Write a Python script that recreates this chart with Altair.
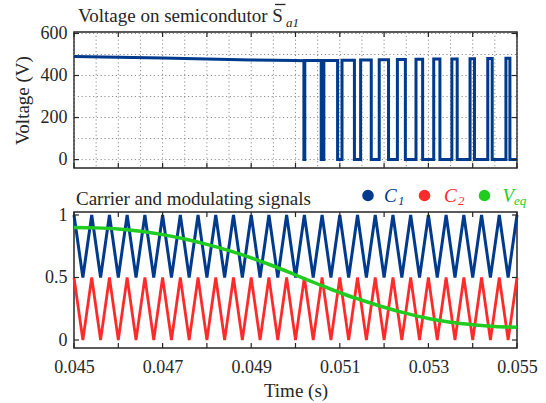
import altair as alt
import pandas as pd

FONT = "Liberation Serif, Times New Roman, Times, serif"
INK = "#262626"
BLUE = "#003a8c"
RED = "#ff2b2b"
GREEN = "#1fcc1f"
GRIDC = "#8c8c8c"

# ---------------- data ----------------
# top panel: voltage on the lower semiconductor
pre_t = [0.0450, 0.0460, 0.0470, 0.0480, 0.0490, 0.0500]
pre_v = [490, 487, 483, 478, 474, 471]
low_start = [0.05019, 0.05058, 0.05095, 0.05133, 0.05171, 0.05210, 0.05248,
             0.05287, 0.05326, 0.05365, 0.05404, 0.05444, 0.05484]
low_end = [0.05021, 0.05064, 0.05105, 0.05147, 0.05189, 0.05230, 0.05272,
           0.05312, 0.05353, 0.05394, 0.05434, 0.05475, 0.05500]
high_level = [470, 471, 472, 473, 474, 475, 476, 477, 478, 479, 480, 481, 482]

# bottom panel: carriers (triangle vertices) and modulating signal
carrier_t = [0.0450, 0.0452, 0.0454, 0.0456, 0.0458, 0.0460, 0.0462, 0.0464, 0.0466,
             0.0468, 0.0470, 0.0472, 0.0474, 0.0476, 0.0478, 0.0480, 0.0482, 0.0484,
             0.0486, 0.0488, 0.0490, 0.0492, 0.0494, 0.0496, 0.0498, 0.0500, 0.0502,
             0.0504, 0.0506, 0.0508, 0.0510, 0.0512, 0.0514, 0.0516, 0.0518, 0.0520,
             0.0522, 0.0524, 0.0526, 0.0528, 0.0530, 0.0532, 0.0534, 0.0536, 0.0538,
             0.0540, 0.0542, 0.0544, 0.0546, 0.0548, 0.0550]
c1_vals = [1, 0.5, 1, 0.5, 1, 0.5, 1, 0.5, 1, 0.5, 1, 0.5, 1, 0.5, 1, 0.5, 1, 0.5,
           1, 0.5, 1, 0.5, 1, 0.5, 1, 0.5, 1, 0.5, 1, 0.5, 1, 0.5, 1, 0.5, 1, 0.5,
           1, 0.5, 1, 0.5, 1, 0.5, 1, 0.5, 1, 0.5, 1, 0.5, 1, 0.5, 1]
c2_vals = [0.5, 0, 0.5, 0, 0.5, 0, 0.5, 0, 0.5, 0, 0.5, 0, 0.5, 0, 0.5, 0, 0.5, 0,
           0.5, 0, 0.5, 0, 0.5, 0, 0.5, 0, 0.5, 0, 0.5, 0, 0.5, 0, 0.5, 0, 0.5, 0,
           0.5, 0, 0.5, 0, 0.5, 0, 0.5, 0, 0.5, 0, 0.5, 0, 0.5, 0, 0.5]
veq_t = [0.0450, 0.0455, 0.0460, 0.0465, 0.0470, 0.0475, 0.0480, 0.0485, 0.0490,
         0.0495, 0.0500, 0.0505, 0.0510, 0.0515, 0.0520, 0.0525, 0.0530, 0.0535,
         0.0540, 0.0545, 0.0550]
veq_vals = [0.900, 0.897, 0.888, 0.870, 0.843, 0.808, 0.765, 0.715, 0.657, 0.592,
            0.520, 0.448, 0.378, 0.318, 0.262, 0.213, 0.172, 0.142, 0.122, 0.108, 0.102]

# axis / grid values
grid_t = [0.0450, 0.0455, 0.0460, 0.0465, 0.0470, 0.0475, 0.0480, 0.0485, 0.0490,
          0.0495, 0.0500, 0.0505, 0.0510, 0.0515, 0.0520, 0.0525, 0.0530, 0.0535,
          0.0540, 0.0545, 0.0550]
grid_v = [0, 100, 200, 300, 400, 500, 600]
xtick_t = [0.045, 0.046, 0.047, 0.048, 0.049, 0.050, 0.051, 0.052, 0.053, 0.054, 0.055]
xlabel_t = [0.045, 0.047, 0.049, 0.051, 0.053, 0.055]
top_yticks = [0, 200, 400, 600]
bot_yticks = [0, 0.5, 1]

legend_names = ["C", "C", "V"]
legend_subs = ["1", "2", "eq"]
legend_colors = [BLUE, RED, GREEN]

# ---------------- tables ----------------
pts = list(zip(pre_t, pre_v))
for i, (s, e) in enumerate(zip(low_start, low_end)):
    pts += [(s, high_level[i]), (s, 0), (e, 0)]
    if i + 1 < len(low_start):
        pts.append((e, high_level[i + 1]))
df_v = pd.DataFrame({"t": [p[0] for p in pts], "v": [p[1] for p in pts],
                     "i": list(range(len(pts)))})
df_car = pd.DataFrame({"t": carrier_t, "c1": c1_vals, "c2": c2_vals})
df_veq = pd.DataFrame({"t": veq_t, "veq": veq_vals})
df_gt = pd.DataFrame({"t": grid_t})
df_gv = pd.DataFrame({"v": grid_v})
df_xt = pd.DataFrame({"t": xtick_t})
df_yt_top = pd.DataFrame({"v": top_yticks})
df_yt_bot = pd.DataFrame({"v": bot_yticks})
one = pd.DataFrame({"k": [0]})

W, H = 443, 136
TL = 5  # inward tick length

xscale = alt.Scale(domain=[0.045, 0.055], nice=False, zero=False)
ytop_scale = alt.Scale(domain=[-40, 607], nice=False, zero=False)
ybot_scale = alt.Scale(domain=[-0.064, 1.024], nice=False, zero=False)

ax_top_y = alt.Axis(values=top_yticks, title="Voltage (V)", grid=False, ticks=False,
                    domain=False, labelFont=FONT, labelFontSize=18, labelColor=INK,
                    labelPadding=7, titleFont=FONT, titleFontSize=19,
                    titleFontWeight="normal", titleColor=INK, titlePadding=8)
ax_bot_x = alt.Axis(values=xlabel_t, format=".3f", title="Time (s)", grid=False,
                    ticks=False, domain=False, labelFont=FONT, labelFontSize=18,
                    labelColor=INK, labelPadding=10, labelFlush=False,
                    labelOverlap=False, titleFont=FONT, titleFontSize=19,
                    titleFontWeight="normal", titleColor=INK, titlePadding=5)
ax_bot_y = alt.Axis(values=bot_yticks, format="~g", title=None, grid=False,
                    ticks=False, domain=False, labelFont=FONT, labelFontSize=18,
                    labelColor=INK, labelPadding=7)

X_top = lambda f: alt.X(f, scale=xscale, axis=None)
Y_top = lambda f: alt.Y(f, scale=ytop_scale, axis=ax_top_y)
X_bot = lambda f: alt.X(f, scale=xscale, axis=ax_bot_x)
Y_bot = lambda f: alt.Y(f, scale=ybot_scale, axis=ax_bot_y)


def text_layer(txt, x, y, size, color, italic=False):
    return alt.Chart(one).mark_text(
        text=txt, font=FONT, fontSize=size, color=color, align="left",
        baseline="alphabetic", fontStyle="italic" if italic else "normal"
    ).encode(x=alt.value(x), y=alt.value(y))


def tick_rules(df, X, Y, horizontal):
    m = dict(color=INK, strokeWidth=1.2)
    if horizontal:
        return [alt.Chart(df).mark_rule(**m).encode(x=X("t:Q"), y=alt.value(H), y2=alt.value(H - TL)),
                alt.Chart(df).mark_rule(**m).encode(x=X("t:Q"), y=alt.value(0), y2=alt.value(TL))]
    return [alt.Chart(df).mark_rule(**m).encode(y=Y("v:Q"), x=alt.value(0), x2=alt.value(TL)),
            alt.Chart(df).mark_rule(**m).encode(y=Y("v:Q"), x=alt.value(W - TL), x2=alt.value(W))]


# ---------------- top panel ----------------
g_vert = alt.Chart(df_gt).mark_rule(color=GRIDC, strokeDash=[1.2, 2.6], strokeWidth=1).encode(
    x=X_top("t:Q"), y=alt.value(0), y2=alt.value(H))
g_hor = alt.Chart(df_gv).mark_rule(color=GRIDC, strokeDash=[1.2, 2.6], strokeWidth=1).encode(
    y=Y_top("v:Q"), x=alt.value(0), x2=alt.value(W))
v_line = alt.Chart(df_v).mark_line(color=BLUE, strokeWidth=3, clip=True).encode(
    x=X_top("t:Q"), y=Y_top("v:Q"), order="i:Q")

top_title = text_layer("Voltage on semicondutor S", 4, -10.5, 19, INK)
top_bar = alt.Chart(one).mark_rule(color=INK, strokeWidth=1.3).encode(
    x=alt.value(201), x2=alt.value(211.5), y=alt.value(-27.5))
top_sub = text_layer("a1", 212, -5.5, 13, INK, italic=True)

top = alt.layer(g_vert, g_hor, v_line,
                *tick_rules(df_xt, X_top, Y_top, True),
                *tick_rules(df_yt_top, X_top, Y_top, False),
                top_title, top_bar, top_sub).properties(width=W, height=H)

# ---------------- bottom panel ----------------
c1_line = alt.Chart(df_car).mark_line(color=BLUE, strokeWidth=3).encode(
    x=X_bot("t:Q"), y=Y_bot("c1:Q"))
c2_line = alt.Chart(df_car).mark_line(color=RED, strokeWidth=2.8).encode(
    x=X_bot("t:Q"), y=Y_bot("c2:Q"))
veq_line = alt.Chart(df_veq).mark_line(color=GREEN, strokeWidth=3.5, interpolate="monotone").encode(
    x=X_bot("t:Q"), y=Y_bot("veq:Q"))

bot_title = text_layer("Carrier and modulating signals", 2, -7.5, 19, INK)

leg_dot_x = [294, 350.5, 410.5]
leg_name_x = [310, 370, 428.5]
leg_sub_x = [324, 384, 440]
leg_layers = []
for k in range(3):
    leg_layers.append(alt.Chart(one).mark_point(
        shape="circle", filled=True, size=135, color=legend_colors[k], opacity=1
    ).encode(x=alt.value(leg_dot_x[k]), y=alt.value(-16.5)))
    leg_layers.append(text_layer(legend_names[k], leg_name_x[k], -10.5, 19,
                                 legend_colors[k], italic=True))
    leg_layers.append(text_layer(legend_subs[k], leg_sub_x[k], -7.5, 13,
                                 legend_colors[k], italic=True))

bottom = alt.layer(c1_line, c2_line, veq_line,
                   *tick_rules(df_xt, X_bot, Y_bot, True),
                   *tick_rules(df_yt_bot, X_bot, Y_bot, False),
                   bot_title, *leg_layers).properties(width=W, height=H)

chart = alt.vconcat(top, bottom, spacing=15).properties(
    padding={"left": 12, "top": 3, "right": 5, "bottom": 2},
    background="white",
).configure_view(stroke=INK, strokeWidth=1.5)

chart.save("out.html", embed_options={"renderer": "svg", "actions": False})
